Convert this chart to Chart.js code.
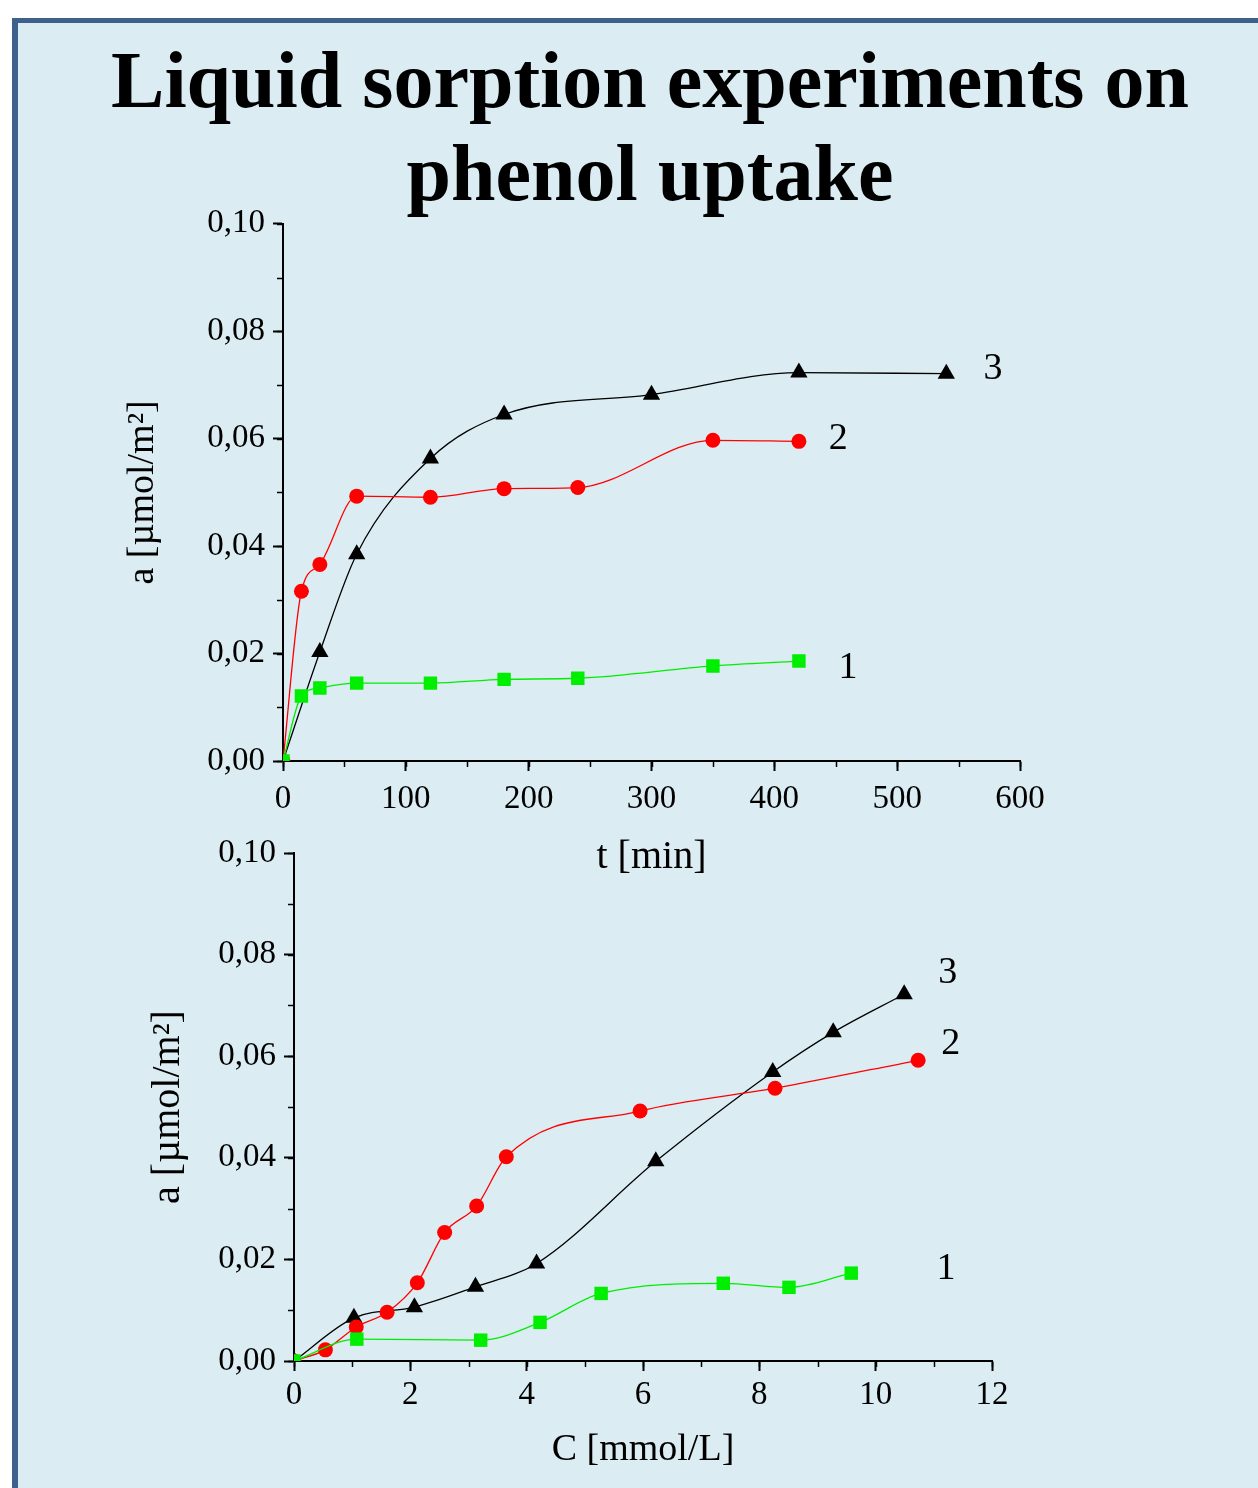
<!DOCTYPE html>
<html>
<head>
<meta charset="utf-8">
<script src="https://cdn.jsdelivr.net/npm/chart.js@4.4.1/dist/chart.umd.min.js"></script>
<style>
html, body { margin: 0; padding: 0; background: #fff; width: 1258px; height: 1488px; overflow: hidden; }
#frame { position: absolute; left: 12px; top: 18px; width: 1300px; height: 1500px; background: #dbedf3;
  border-left: 6px solid #3e608c; border-top: 5px solid #3e608c; }
#title { position: absolute; left: 0; top: 34px; width: 1300px; text-align: center; color: #000;
  font: bold 80px "Liberation Serif", "Times New Roman", serif; line-height: 93px; }
canvas { position: absolute; }
</style>
</head>
<body>
<div id="frame"></div>
<div id="title">Liquid sorption experiments on<br>phenol uptake</div>
<canvas id="timeChart" width="1000" height="685" style="left:100px; top:196px;"></canvas>
<canvas id="concChart" width="1000" height="668" style="left:100px; top:820px;"></canvas>
<script>
// Верхній графік: адсорбція від часу
const timeGreen = [0, 15, 30, 60, 120, 180, 240, 350, 420];
const aTimeGreen = [0, 0.0121, 0.0136, 0.0145, 0.0145, 0.0152, 0.0154, 0.0177, 0.0186];
const timeRed = [0, 15, 30, 60, 120, 180, 240, 350, 420];
const aTimeRed = [0, 0.0316, 0.0366, 0.0493, 0.0491, 0.0507, 0.0509, 0.0597, 0.0595];
const timeBlack = [0, 30, 60, 120, 180, 300, 420, 540];
const aTimeBlack = [0, 0.0203, 0.0385, 0.0563, 0.0645, 0.0682, 0.0723, 0.0721];

// Нижній графік: адсорбція від концентрації
const concGreen = [0, 1.08, 3.21, 4.23, 5.28, 7.38, 8.51, 9.58];
const aConcGreen = [0, 0.0043, 0.0041, 0.0076, 0.0133, 0.0153, 0.0145, 0.0173];
const concRed = [0, 0.54, 1.07, 1.60, 2.12, 2.59, 3.14, 3.65, 5.95, 8.27, 10.73];
const aConcRed = [0, 0.0022, 0.0067, 0.0096, 0.0154, 0.0253, 0.0305, 0.0402, 0.0492, 0.0537, 0.0592];
const concBlack = [0, 1.03, 2.07, 3.12, 4.17, 6.22, 8.23, 9.27, 10.49];
const aConcBlack = [0, 0.0085, 0.0106, 0.0146, 0.0192, 0.0393, 0.0569, 0.0647, 0.0722];

// Номери кривих (у координатах даних)
const curveTags = ['1', '2', '3'];
const tagTimeX = [460, 452, 578];
const tagTimeY = [0.0173, 0.0600, 0.0730];
const tagConcX = [11.21, 11.29, 11.24];
const tagConcY = [0.0182, 0.0624, 0.0763];

const FONT = '"Liberation Serif", "Times New Roman", serif';

// Малі поділки на осях
const minorTicks = {
    id: 'minorTicks',
    afterDraw(chart, args, opts) {
        const ctx = chart.ctx;
        const { x, y } = chart.scales;
        ctx.save();
        ctx.strokeStyle = '#000';
        ctx.lineWidth = 1.5;
        for (let v = x.min; v <= x.max + 1e-9; v += opts.xStep) {
            const px = Math.round(x.getPixelForValue(v)) + 0.5;
            ctx.beginPath();
            ctx.moveTo(px, x.top);
            ctx.lineTo(px, x.top + 6);
            ctx.stroke();
        }
        for (let v = y.min; v <= y.max + 1e-9; v += opts.yStep) {
            const py = Math.round(y.getPixelForValue(v)) + 0.5;
            ctx.beginPath();
            ctx.moveTo(y.right, py);
            ctx.lineTo(y.right - 6, py);
            ctx.stroke();
        }
        ctx.restore();
    }
};

// Підписи кривих 1, 2, 3
const curveLabels = {
    id: 'curveLabels',
    afterDatasetsDraw(chart, args, opts) {
        const ctx = chart.ctx;
        const { x, y } = chart.scales;
        ctx.save();
        ctx.fillStyle = '#000';
        ctx.font = '38px ' + FONT;
        ctx.textAlign = 'center';
        ctx.textBaseline = 'middle';
        opts.text.forEach((t, i) => {
            ctx.fillText(t, x.getPixelForValue(opts.xs[i]), y.getPixelForValue(opts.ys[i]));
        });
        ctx.restore();
    }
};

function series(xs, ys, color, style, radius) {
    return {
        data: xs.map((v, i) => ({ x: v, y: ys[i] })),
        showLine: true,
        borderColor: color,
        borderWidth: 1.3,
        cubicInterpolationMode: 'monotone',
        pointStyle: style,
        pointRadius: radius,
        pointBackgroundColor: color,
        pointBorderColor: color,
        pointBorderWidth: 0,
        clip: 0
    };
}

function createChart(id, cfg) {
    const ctx = document.getElementById(id).getContext('2d');
    return new Chart(ctx, {
        type: 'scatter',
        data: { datasets: cfg.datasets },
        options: {
            responsive: false,
            animation: false,
            devicePixelRatio: 1,
            layout: { padding: cfg.padding },
            plugins: {
                legend: { display: false },
                tooltip: { enabled: false },
                minorTicks: { xStep: cfg.xMinor, yStep: 0.01 },
                curveLabels: { text: curveTags, xs: cfg.tagX, ys: cfg.tagY }
            },
            scales: {
                x: {
                    type: 'linear',
                    min: 0,
                    max: cfg.xMax,
                    afterFit: s => { s.height = cfg.xHeight; },
                    border: { display: true, color: '#000', width: 2 },
                    grid: { display: true, drawOnChartArea: false, tickLength: 10, tickWidth: 2, tickColor: '#000' },
                    ticks: { stepSize: cfg.xStep, padding: cfg.xPad, maxRotation: 0, color: '#000',
                        font: { family: FONT, size: 33 } },
                    title: { display: true, text: cfg.xTitle, color: '#000',
                        font: { family: FONT, size: cfg.xTitleSize }, padding: { top: 0, bottom: cfg.xTitlePad } }
                },
                y: {
                    type: 'linear',
                    min: 0,
                    max: 0.1,
                    afterFit: s => { s.width = cfg.yWidth; },
                    border: { display: true, color: '#000', width: 2 },
                    grid: { display: true, drawOnChartArea: false, tickLength: 10, tickWidth: 2, tickColor: '#000' },
                    ticks: { stepSize: 0.02, padding: 8, color: '#000', font: { family: FONT, size: 33 },
                        callback: v => v.toFixed(2).replace('.', ',') },
                    title: { display: true, text: 'a [µmol/m²]', color: '#000',
                        font: { family: FONT, size: cfg.yTitleSize }, padding: { top: cfg.yTitlePad, bottom: 0 } }
                }
            }
        },
        plugins: [minorTicks, curveLabels]
    });
}

createChart('timeChart', {
    datasets: [
        series(timeGreen, aTimeGreen, '#00ee00', 'rect', 9.5),
        series(timeRed, aTimeRed, '#ff0000', 'circle', 7.5),
        series(timeBlack, aTimeBlack, '#000000', 'triangle', 10)
    ],
    padding: { left: 0, top: 20, right: 80, bottom: 0 },
    xMax: 600, xStep: 100, xMinor: 50, xHeight: 120, xPad: 9, xTitle: 't [min]', xTitleSize: 40, xTitlePad: 0,
    yWidth: 183, yTitleSize: 38, yTitlePad: 20,
    tagX: tagTimeX, tagY: tagTimeY
});

createChart('concChart', {
    datasets: [
        series(concGreen, aConcGreen, '#00ee00', 'rect', 9.5),
        series(concRed, aConcRed, '#ff0000', 'circle', 7.5),
        series(concBlack, aConcBlack, '#000000', 'triangle', 10)
    ],
    padding: { left: 0, top: 33, right: 108, bottom: 0 },
    xMax: 12, xStep: 2, xMinor: 1, xHeight: 127, xPad: 5, xTitle: 'C [mmol/L]', xTitleSize: 38, xTitlePad: 15,
    yWidth: 194, yTitleSize: 40, yTitlePad: 44,
    tagX: tagConcX, tagY: tagConcY
});
</script>
</body>
</html>
